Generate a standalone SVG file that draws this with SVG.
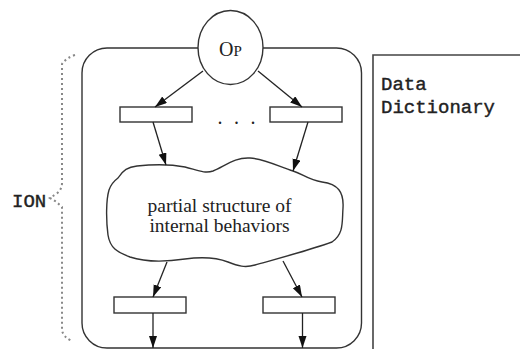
<svg xmlns="http://www.w3.org/2000/svg" width="520" height="349" viewBox="0 0 520 349">
<style>
.ln{fill:none;stroke:#333;stroke-width:1.4}
.bx{fill:#fff;stroke:#333;stroke-width:1.4}
.ar{fill:none;stroke:#222;stroke-width:1.3;marker-end:url(#ah)}
.mono{font-family:"Liberation Mono","Courier New",monospace;font-size:19px;fill:#222;stroke:#222;stroke-width:0.4}
.serif{font-family:"Liberation Serif","Times New Roman",serif;fill:#222}
</style>
<defs>
<marker id="ah" markerUnits="userSpaceOnUse" markerWidth="13" markerHeight="9" refX="12" refY="4" orient="auto">
<path d="M0,0 L12,4 L0,8 Z" fill="#111"/>
</marker>
</defs>
<rect width="520" height="349" fill="#fff"/>
<g id="ion-frame">
<rect class="ln" x="82" y="48" width="279.5" height="300" rx="25" ry="25"/>
</g>
<g id="data-dictionary">
<path d="M373,349 V55 H521" fill="none" stroke="#444" stroke-width="1.6"/>
<text class="mono" x="381" y="90">Data</text>
<text class="mono" x="381" y="113">Dictionary</text>
</g>
<g id="ion-brace">
<path d="M75,55 Q66,58 62,64 V183 Q62,190 56,194 L50,198 Q56,201 62,207 V330 Q63,337 72,341" fill="none" stroke="#888" stroke-width="2" stroke-dasharray="2 3"/>
<text class="mono" x="12" y="207">ION</text>
</g>
<g id="op">
<ellipse class="bx" cx="230.5" cy="47.5" rx="32.5" ry="37"/>
<text class="serif" x="230.5" y="56" text-anchor="middle"><tspan font-size="20">O</tspan><tspan font-size="15">P</tspan></text>
</g>
<g id="rect-top-left"><rect class="bx" x="120" y="107" width="72" height="15"/></g>
<g id="rect-top-right"><rect class="bx" x="270" y="107" width="72" height="15"/></g>
<g id="ellipsis"><text class="serif" font-size="20" x="217.5 234 250.5" y="124">...</text></g>
<g id="cloud">
<path class="bx" d="M118,178 C123,170 128,167 137,166 C155,164 170,164 185,167 C197,170 205,174 213,171 C225,166 235,157 250,158 C265,159 280,167 293,171 C303,174 308,180 322,182 C338,184 344,192 343,208 C342,222 344,234 332,242 C310,250 280,258 255,265 C245,268 238,266 228,262 C215,257 200,257 185,259 C165,262 145,262 130,257 C117,252 110,248 108,235 C106,220 106,200 109,190 C111,184 114,181 118,178 Z"/>
<text class="serif" font-size="19.5" x="219.5" y="212" text-anchor="middle">partial structure of</text>
<text class="serif" font-size="19.5" x="219.5" y="232" text-anchor="middle">internal behaviors</text>
</g>
<g id="rect-bottom-left"><rect class="bx" x="114" y="297" width="72" height="16"/></g>
<g id="rect-bottom-right"><rect class="bx" x="263" y="297" width="72" height="16"/></g>
<g id="connectors">
<line class="ar" x1="203" y1="71" x2="155" y2="107"/>
<line class="ar" x1="258" y1="71" x2="302" y2="107"/>
<line class="ar" x1="153" y1="122" x2="166" y2="165"/>
<line class="ar" x1="308" y1="122" x2="293" y2="171"/>
<line class="ar" x1="167" y1="262" x2="153" y2="297"/>
<line class="ar" x1="283" y1="261" x2="302" y2="297"/>
<line class="ar" x1="153" y1="313" x2="153" y2="348"/>
<line class="ar" x1="302.5" y1="313" x2="302.5" y2="348"/>
</g>
</svg>
